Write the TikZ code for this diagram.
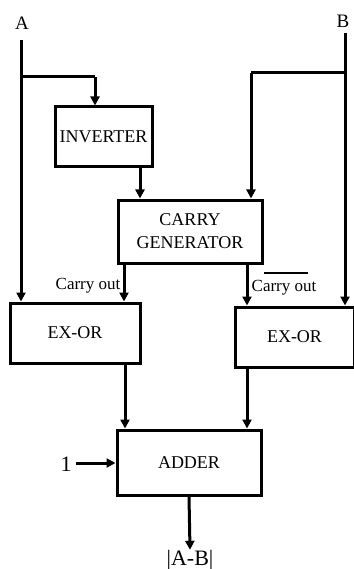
\documentclass[tikz,border=0pt]{standalone}
\usepackage{fontspec}
\setmainfont{Liberation Serif}
\usetikzlibrary{arrows.meta}
\begin{document}
\begin{tikzpicture}[x=1pt,y=-1pt,
 blk/.style={draw,line width=3pt,inner sep=0pt,font=\fontsize{18}{23}\selectfont,align=center},
 wire/.style={line width=3pt},
 arr/.style={wire,-{Triangle[length=9pt,width=9pt]}},
 lbl/.style={font=\fontsize{19}{22}\selectfont,inner sep=0pt},
 small/.style={font=\fontsize{17}{20}\selectfont,inner sep=0pt},
 big/.style={font=\fontsize{22}{26}\selectfont,inner sep=0pt}]
\useasboundingbox (0,0) rectangle (353,569);
% blocks
\node[blk,minimum width=97pt,minimum height=60pt] (inv) at (103.5,137) {INVERTER};
\node[blk,minimum width=144pt,minimum height=63pt] (cg) at (190,231.5) {CARRY\\GENERATOR};
\node[blk,minimum width=130pt,minimum height=60pt] (exL) at (75,333) {EX-OR};
\node[blk,minimum width=119pt,minimum height=60pt,text width=100pt,align=center] (exR) at (294.5,337) {\hspace*{0pt}EX-OR};
\node[blk,minimum width=144pt,minimum height=65pt] (add) at (189,462.5) {ADDER};
% labels
\node[lbl] (A) at (22,23) {A};
\node[lbl] (B) at (343,21) {B};
\node[small] (coL) at (88,286) {Carry out};
\node[small] (coR) at (284,288) {Carry out};
\node[big] (one) at (66,464) {1};
\node[big] (res) at (190,560) {|A-B|};
% coordinates
\coordinate (Atop) at (21,40);
\coordinate (Abr) at (21,77);
\coordinate (Btop) at (345,33);
\coordinate (Bbr) at (345,73);
% wires
\draw[arr] (Atop) -- (Atop |- exL.north);
\draw[wire] (Abr) -- (95,77) coordinate (Ac);
\draw[arr] (Ac) -- (Ac |- inv.north);
\draw[arr] (inv.south -| 140,0) -- (cg.north -| 140,0);
\draw[arr] (Btop) -- (Btop |- exR.north);
\draw[wire] (Bbr) -- (251,73) coordinate (Bc);
\draw[arr] (Bc) -- (Bc |- cg.north);
\draw[arr] (cg.south -| 124,0) -- (exL.north -| 124,0);
\draw[arr] (cg.south -| 247,0) -- (exR.north -| 247,0);
\draw[line width=2.5pt] (264,273) -- (308,273);
\draw[arr] (exL.south -| 125,0) -- (add.north -| 125,0);
\draw[arr] (exR.south -| 247,0) -- (add.north -| 247,0);
\draw[arr] (one.east) ++(4,-1) coordinate (oneS) -- (oneS -| add.west);
\draw[arr] (add.south) -- (res.north);
\end{tikzpicture}
\end{document}
